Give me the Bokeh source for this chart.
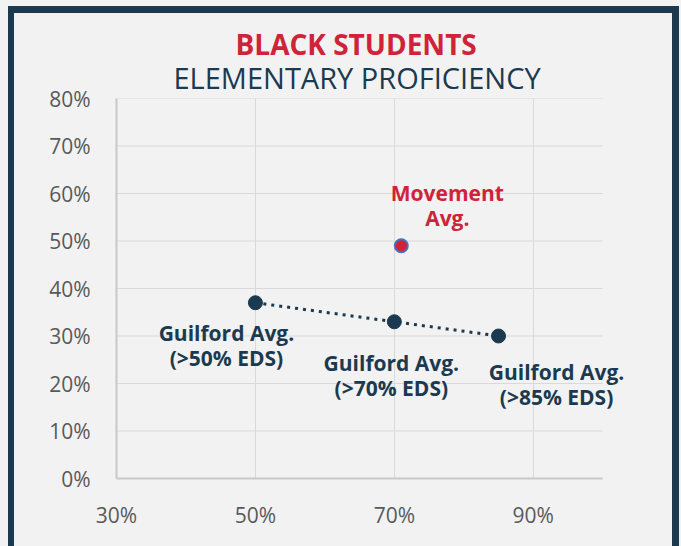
from bokeh.plotting import figure
from bokeh.models import ColumnDataSource, Range1d, FixedTicker, Title, Label
from bokeh.embed import file_html
from bokeh.resources import INLINE

# ---- data ----
guilford_x = [50, 70, 85]
guilford_y = [37, 33, 30]
guilford_labels = ["Guilford Avg.\n(>50% EDS)", "Guilford Avg.\n(>70% EDS)", "Guilford Avg.\n(>85% EDS)"]
movement_x = [71]
movement_y = [49]
movement_labels = ["Movement\nAvg."]
x_ticks = [30, 50, 70, 90]
y_ticks = [0, 10, 20, 30, 40, 50, 60, 70, 80]
x_axis_min, x_axis_max = 30, 100
title_main = "BLACK STUDENTS"
title_sub = "ELEMENTARY PROFICIENCY"

# ---- label placement (screen px, positive = up; centre of the two-line block) ----
guilford_dx = [-29, -3, 58]
guilford_dy = [-43, -54, -48]
movement_dx = [46]
movement_dy = [40]
LINE_GAP = 25

NAVY = "#1b3a4f"
RED = "#d0233a"
BLUE = "#4472c4"
BG = "#f2f2f2"
GRID = "#d9d9d9"
TICK = "#595959"
FONT = "Open Sans"

# frame extends a little past 100% so the right-hand label is not clipped
p = figure(width=658, height=530,
           x_range=Range1d(30, 104), y_range=Range1d(0, 80),
           output_backend="svg", toolbar_location=None,
           min_border_left=102, min_border_right=42, min_border_bottom=65, min_border_top=85,
           background_fill_color=BG, border_fill_color=BG, outline_line_color=None)

p.title.text = title_main
p.title.text_font = FONT
p.title.text_font_size = "28px"
p.title.text_font_style = "bold"
p.title.text_color = RED
p.title.align = "left"
p.title.offset = 119
p.title.standoff = -16
p.add_layout(Title(text=title_sub, text_font=FONT, text_font_size="29px",
                   text_font_style="normal", text_color=NAVY, align="left",
                   offset=57, standoff=3), "above")

for ax in (p.xaxis, p.yaxis):
    ax.major_tick_line_color = None
    ax.minor_tick_line_color = None
    ax.axis_line_color = "#c8c8c8"
    ax.axis_line_width = 2
    ax.major_label_text_font = FONT
    ax.major_label_text_font_size = "21px"
    ax.major_label_text_color = TICK

p.xaxis.bounds = (x_axis_min, x_axis_max)
p.xaxis.ticker = FixedTicker(ticks=x_ticks)
p.yaxis.ticker = FixedTicker(ticks=y_ticks)
p.xaxis.major_label_overrides = {t: f"{t}%" for t in x_ticks}
p.yaxis.major_label_overrides = {t: f"{t}%" for t in y_ticks}
p.xaxis.major_label_standoff = 16
p.yaxis.major_label_standoff = 20

p.xgrid.grid_line_color = GRID
p.xgrid.grid_line_width = 1
p.ygrid.visible = False
# horizontal grid lines, limited to the axis extent
p.segment(x0=[x_axis_min] * len(y_ticks), x1=[x_axis_max] * len(y_ticks), y0=y_ticks, y1=y_ticks,
          line_color=GRID, line_width=1, level="underlay")

gsrc = ColumnDataSource(dict(x=guilford_x, y=guilford_y))
msrc = ColumnDataSource(dict(x=movement_x, y=movement_y))

p.line("x", "y", source=gsrc, line_color=NAVY, line_width=3, line_dash="3 5")
p.scatter("x", "y", source=gsrc, size=14, fill_color=NAVY, line_color=NAVY)
p.scatter("x", "y", source=msrc, size=13, fill_color=RED, line_color=BLUE, line_width=2)


def add_labels(xs, ys, labels, dxs, dys, color):
    for x, y, lab, dx, dy in zip(xs, ys, labels, dxs, dys):
        for k, part in enumerate(lab.split("\n")):
            off = dy + LINE_GAP / 2 - k * LINE_GAP
            p.add_layout(Label(x=x, y=y, text=part, x_offset=dx, y_offset=off,
                               text_font=FONT, text_font_size="21px", text_font_style="bold",
                               text_color=color, text_align="center", text_baseline="middle"))


add_labels(guilford_x, guilford_y, guilford_labels, guilford_dx, guilford_dy, NAVY)
add_labels(movement_x, movement_y, movement_labels, movement_dx, movement_dy, RED)

html = file_html(p, INLINE)
i = html.rfind("</head>")
css = ("<style>"
       "html { background: #f2f2f2 !important; overflow: hidden !important; }"
       "body { background: #f2f2f2 !important; margin: 6px 2px 0 8px !important; padding: 0 !important;"
       " height: calc(100% - 6px) !important;"
       " border-top: 7px solid " + NAVY + "; border-left: 6px solid " + NAVY + ";"
       " border-right: 7px solid " + NAVY + "; }"
       "</style>\n")
html = html[:i] + css + html[i:]
open("out.html", "w").write(html)
